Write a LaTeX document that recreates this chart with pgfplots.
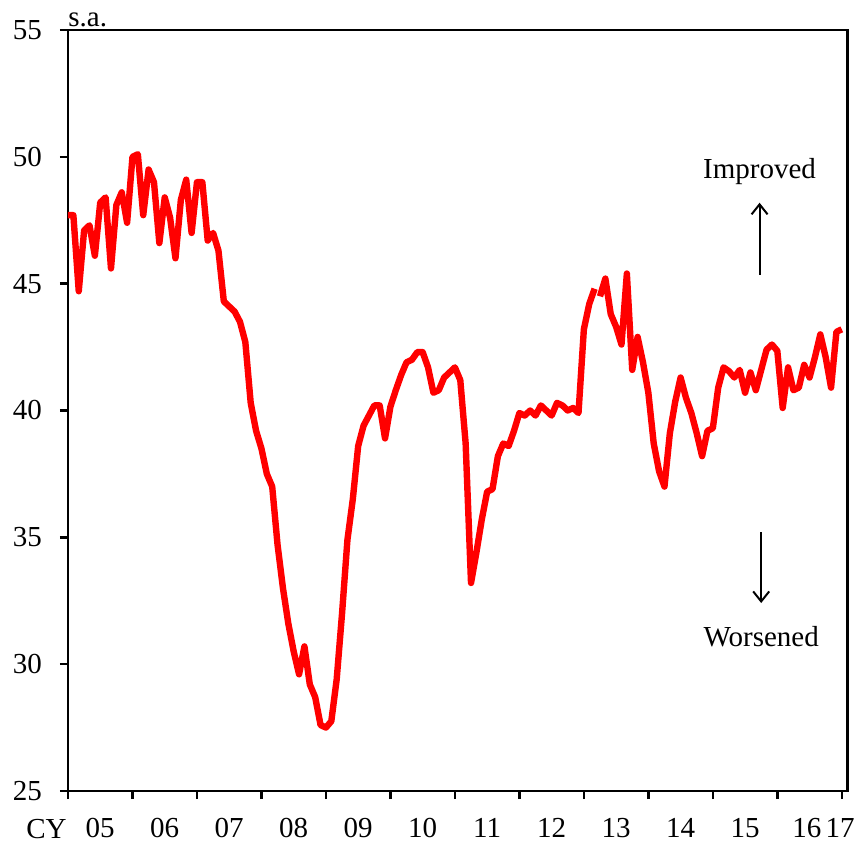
\documentclass[border=0pt]{standalone}
\usepackage{fontspec}
\setmainfont{Liberation Serif}
\usepackage{pgfplots}
\pgfplotsset{compat=1.18}
\usetikzlibrary{calc,arrows.meta}

\begin{document}
\fontsize{14.5}{17}\selectfont
\begin{tikzpicture}
\begin{axis}[
  name=ax,
  scale only axis,
  width=389.85pt, height=380.5pt,
  xmin=0, xmax=145.1, ymin=25, ymax=55,
  axis line style={line width=1.25pt},
  tick style={line width=1.25pt, black},
  tick align=outside,
  major tick length=4pt,
  xtick pos=bottom, ytick pos=left,
  ytick={25,30,35,40,45,50,55},
  xtick={0,12,24,36,48,60,72,84,96,108,120,132,144},
  xticklabels={},
  extra x ticks={6,18,30,42,54,66,78,90,102,114,126,137.5,143.7},
  extra x tick labels={05,06,07,08,09,10,11,12,13,14,15,16,17},
  extra x tick style={major tick length=0pt},
  /pgf/number format/assume math mode=true,
  ticklabel style={font=\fontsize{14.5}{17}\selectfont},
  xticklabel style={yshift=-8.5pt},
  yticklabel style={xshift=-4pt},
  unbounded coords=jump,
  clip=false,
]
\addplot[red, line width=3.2pt, line join=round] coordinates {
(0,47.7) (1,47.7) (2,44.7) (3,47.1) (4,47.3) (5,46.1) (6,48.2) (7,48.4) (8,45.6) (9,48.1) (10,48.6) (11,47.4)
(12,50.0) (13,50.1) (14,47.7) (15,49.5) (16,49.0) (17,46.6) (18,48.4) (19,47.6) (20,46.0) (21,48.3) (22,49.1) (23,47.0)
(24,49.0) (25,49.0) (26,46.7) (27,47.0) (28,46.3) (29,44.3) (30,44.1) (31,43.9) (32,43.5) (33,42.7) (34,40.3) (35,39.2)
(36,38.5) (37,37.5) (38,37.0) (39,34.7) (40,33.0) (41,31.6) (42,30.5) (43,29.6) (44,30.7) (45,29.2) (46,28.7) (47,27.6)
(48,27.5) (49,27.75) (50,29.4) (51,32.0) (52,34.9) (53,36.5) (54,38.6) (55,39.4) (56,39.8) (57,40.2) (58,40.2) (59,38.9)
(60,40.15) (61,40.8) (62,41.4) (63,41.9) (64,42.0) (65,42.3) (66,42.3) (67,41.7) (68,40.7) (69,40.8) (70,41.3) (71,41.5)
(72,41.7) (73,41.2) (74,38.7) (75,33.2) (76,34.4) (77,35.7) (78,36.8) (79,36.9) (80,38.2) (81,38.7) (82,38.6) (83,39.2)
(84,39.9) (85,39.8) (86,40.0) (87,39.8) (88,40.2) (89,40.0) (90,39.8) (91,40.3) (92,40.2) (93,40.0) (94,40.1) (95,39.9)
(96,43.2) (97,44.2) (98,44.8) (98.5,nan) (99,44.5) (100,45.2) (101,43.8) (102,43.3) (103,42.6) (104,45.4) (105,41.6) (106,42.9) (107,41.9)
(108,40.7) (109,38.7) (110,37.6) (111,37.0) (112,39.1) (113,40.35) (114,41.3) (115,40.5) (116,39.9) (117,39.1) (118,38.2) (119,39.2)
(120,39.3) (121,40.9) (122,41.7) (123,41.55) (124,41.3) (125,41.6) (126,40.7) (127,41.5) (128,40.8) (129,41.6) (130,42.4) (131,42.6)
(132,42.35) (133,40.1) (134,41.7) (135,40.8) (136,40.9) (137,41.8) (138,41.3) (139,42.1) (140,43.0) (141,42.1) (142,40.9) (143,43.1)
(144,43.2)
};
\node[anchor=base] at (axis cs:128.7,49.13) {Improved};
\draw[line width=1pt, -{Straight Barb[length=5pt,width=8pt]}] (axis cs:128.7,45.35) -- (axis cs:128.7,48.19);
\draw[line width=1pt, -{Straight Barb[length=5pt,width=8pt]}] (axis cs:129.0,35.2) -- (axis cs:129.0,32.41);
\node[anchor=base] at (axis cs:129.0,30.68) {Worsened};
\end{axis}
\node[anchor=base west, inner sep=0pt] at ($(ax.north west)+(0,1.5pt)$) {s.a.};
\node[anchor=base east, inner sep=0pt] at ($(ax.south west)+(-0.5pt,-23.5pt)$) {CY};
\pgfresetboundingbox
\path ($(ax.south west)+(-34pt,-26.5pt)$) rectangle ($(ax.north east)+(3.15pt,15pt)$);
\end{tikzpicture}
\end{document}
